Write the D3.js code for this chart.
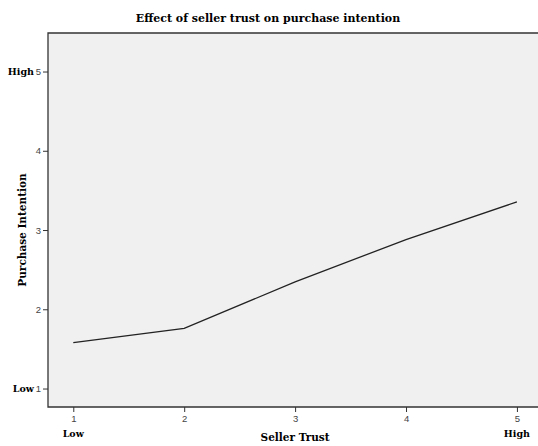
<!DOCTYPE html>
<html><head><meta charset="utf-8">
<script src="https://cdn.jsdelivr.net/npm/d3@7"></script>
<style>body{margin:0;background:#fff}svg{display:block}</style>
</head><body>
<svg id="c" width="538" height="446"></svg>
<script>
const trust = [1, 2, 3, 4, 5];
const intention = [1.58, 1.76, 2.345, 2.88, 3.355];
const xTicks = [1, 2, 3, 4, 5];
const yTicks = [1, 2, 3, 4, 5];
const endLabels = ["Low", "High"];

const svg = d3.select("#c");
const L = 48, T = 33, R = 538, B = 407;
const x = d3.scaleLinear().domain([0.772, 5.19]).range([L, R]);
const y = d3.scaleLinear().domain([0.767, 5.486]).range([B, T]);

svg.append("rect").attr("x", L).attr("y", T).attr("width", R - L).attr("height", B - T)
  .attr("fill", "#f0f0f0");
svg.append("path").attr("d", `M${R},${T}H${L}V${B}H${R}`).attr("fill", "none")
  .attr("stroke", "#333").attr("stroke-width", 1.3);

const xa = svg.append("g").attr("transform", `translate(0,${B})`)
  .call(d3.axisBottom(x).tickValues(xTicks).tickSize(5).tickPadding(3).tickFormat(d3.format("d")));
const ya = svg.append("g").attr("transform", `translate(${L},0)`)
  .call(d3.axisLeft(y).tickValues(yTicks).tickSize(5).tickPadding(2).tickFormat(d3.format("d")));
[xa, ya].forEach(a => {
  a.select(".domain").remove();
  a.selectAll("line").attr("stroke", "#333");
  a.selectAll("text").attr("fill", "#444").style("font-family", "Liberation Sans, Arial, sans-serif").style("font-size", "9.5px");
});

svg.append("path").datum(trust.map((t, i) => [t, intention[i]]))
  .attr("d", d3.line().x(d => x(d[0])).y(d => y(d[1])))
  .attr("fill", "none").attr("stroke", "#222").attr("stroke-width", 1.3);

const serif = "DejaVu Serif, Liberation Serif, serif";
svg.append("text").attr("x", 268).attr("y", 22).attr("text-anchor", "middle")
  .style("font-family", serif).style("font-weight", "bold").style("font-size", "11px")
  .text("Effect of seller trust on purchase intention");
svg.append("text").attr("x", x(3)).attr("y", 441).attr("text-anchor", "middle")
  .style("font-family", serif).style("font-weight", "bold").style("font-size", "10.5px")
  .text("Seller Trust");
svg.append("text").attr("transform", `translate(26,${y(3)}) rotate(-90)`).attr("text-anchor", "middle")
  .style("font-family", serif).style("font-weight", "bold").style("font-size", "10.5px")
  .text("Purchase Intention");

const small = {"font-family": serif, "font-weight": "bold", "font-size": "9.5px"};
function lab(xp, yp, t, anchor) {
  const e = svg.append("text").attr("x", xp).attr("y", yp).attr("text-anchor", anchor).text(t);
  Object.entries(small).forEach(([k, v]) => e.style(k, v));
}
lab(34, y(5) + 3.5, endLabels[1], "end");
lab(34, y(1) + 3.5, endLabels[0], "end");
lab(x(1), 437, endLabels[0], "middle");
lab(x(5), 437, endLabels[1], "middle");
</script>
</body></html>
